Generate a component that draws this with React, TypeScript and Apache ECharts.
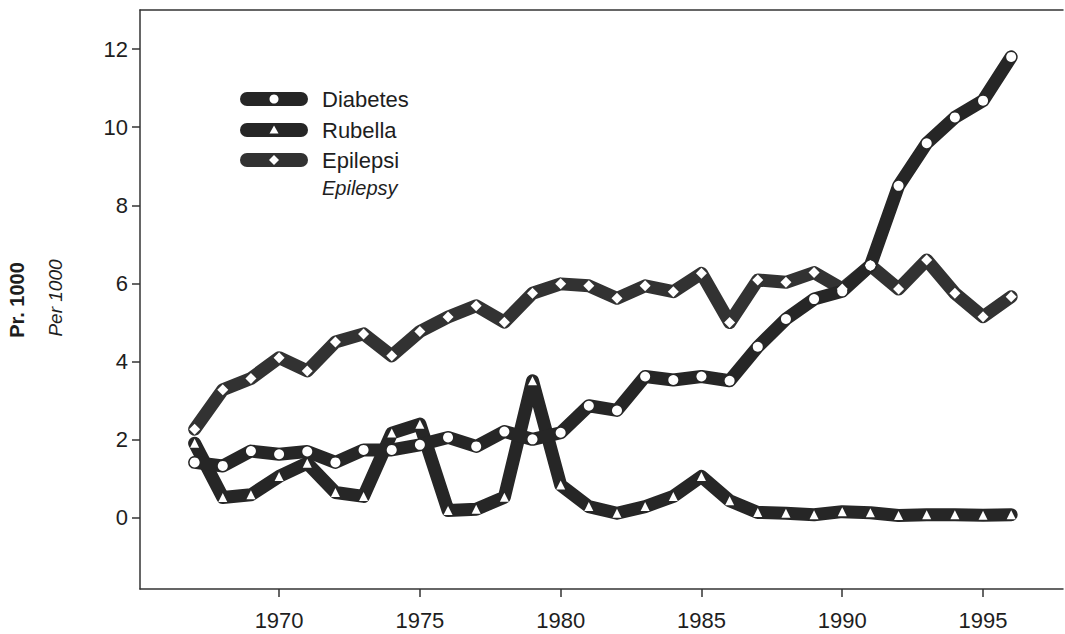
import React, { useEffect, useRef } from "react";
import * as echarts from "echarts";

const years = [1967, 1968, 1969, 1970, 1971, 1972, 1973, 1974, 1975, 1976, 1977, 1978, 1979, 1980, 1981, 1982, 1983, 1984, 1985, 1986, 1987, 1988, 1989, 1990, 1991, 1992, 1993, 1994, 1995, 1996];
const diabetes = [1.42, 1.33, 1.71, 1.63, 1.70, 1.42, 1.74, 1.74, 1.87, 2.06, 1.83, 2.21, 2.01, 2.18, 2.87, 2.75, 3.62, 3.53, 3.62, 3.51, 4.38, 5.09, 5.60, 5.80, 6.46, 8.50, 9.59, 10.25, 10.68, 11.80];
const rubella = [1.91, 0.52, 0.59, 1.06, 1.40, 0.65, 0.55, 2.17, 2.40, 0.19, 0.22, 0.53, 3.51, 0.84, 0.29, 0.12, 0.29, 0.55, 1.06, 0.44, 0.14, 0.12, 0.08, 0.16, 0.13, 0.06, 0.08, 0.08, 0.07, 0.08];
const epilepsi = [2.27, 3.28, 3.57, 4.10, 3.76, 4.50, 4.71, 4.15, 4.77, 5.14, 5.43, 5.01, 5.75, 5.99, 5.94, 5.62, 5.94, 5.79, 6.26, 5.00, 6.09, 6.03, 6.28, 5.86, 6.46, 5.86, 6.60, 5.75, 5.15, 5.66];
const xTicks = [1970, 1975, 1980, 1985, 1990, 1995];
const yTicks = [0, 2, 4, 6, 8, 10, 12];
const seriesNames = ["Diabetes", "Rubella", "Epilepsi"];
const legendSubtitle = "Epilepsy";
const yTitle = "Pr. 1000";
const ySubtitle = "Per 1000";

const FONT = "'Liberation Sans', Arial, Helvetica, sans-serif";
const DARK = "#262626";
const EPI = "#323232";
const TEXT = "#1e1e1e";
const AXIS = "#333";

export default function App() {
  const ref = useRef<HTMLDivElement>(null);
  useEffect(() => {
    document.body.style.margin = "0";
    if (!ref.current) return;
    const chart = echarts.init(ref.current, null, { renderer: "svg" });
    const mk = (vals: number[]) => years.map((y, i) => [y, vals[i]]);
    const lineSeries = (name: string, vals: number[], symbol: string, size: number, color: string) => ({
      type: "line",
      name,
      xAxisIndex: 0,
      yAxisIndex: 0,
      data: mk(vals),
      symbol,
      symbolSize: size,
      showAllSymbol: true,
      lineStyle: { color, width: 13, cap: "round", join: "round" },
      itemStyle: { color: "#ffffff", borderWidth: 0 },
      emphasis: { disabled: true },
    });
    const legendRows = [
      { name: seriesNames[0], y: 99, color: DARK },
      { name: seriesNames[1], y: 130, color: DARK },
      { name: seriesNames[2], y: 160, color: EPI },
    ];
    const graphics: any[] = [];
    legendRows.forEach((r, i) => {
      graphics.push({
        type: "rect",
        shape: { x: 240, y: r.y - 7, width: 68, height: 14, r: 7 },
        style: { fill: r.color },
      });
      if (i === 0) {
        graphics.push({ type: "circle", shape: { cx: 274, cy: r.y, r: 4.5 }, style: { fill: "#fff" } });
      } else if (i === 1) {
        graphics.push({
          type: "polygon",
          shape: { points: [[274, r.y - 4.5], [278.5, r.y + 3.5], [269.5, r.y + 3.5]] },
          style: { fill: "#fff" },
        });
      } else {
        graphics.push({
          type: "polygon",
          shape: { points: [[274, r.y - 5], [279, r.y], [274, r.y + 5], [269, r.y]] },
          style: { fill: "#fff" },
        });
      }
      graphics.push({
        type: "text",
        x: 322,
        y: r.y,
        style: { text: r.name, font: `22px ${FONT}`, fill: TEXT, textAlign: "left", textVerticalAlign: "middle" },
      });
    });
    graphics.push({
      type: "text",
      x: 322,
      y: 188,
      style: { text: legendSubtitle, font: `italic 20px ${FONT}`, fill: TEXT, textAlign: "left", textVerticalAlign: "middle" },
    });
    graphics.push({
      type: "text",
      x: 17,
      y: 300,
      rotation: Math.PI / 2,
      style: { text: yTitle, font: `bold 20px ${FONT}`, fill: TEXT, textAlign: "center", textVerticalAlign: "middle" },
    });
    graphics.push({
      type: "text",
      x: 55,
      y: 298,
      rotation: Math.PI / 2,
      style: { text: ySubtitle, font: `italic 19px ${FONT}`, fill: TEXT, textAlign: "center", textVerticalAlign: "middle" },
    });

    chart.setOption({
      animation: false,
      backgroundColor: "#ffffff",
      grid: { left: 140, top: 10, right: 2, bottom: 45, show: false },
      xAxis: [
        {
          type: "value",
          position: "bottom",
          min: 1965.06,
          max: 1997.84,
          splitLine: { show: false },
          axisLine: { show: true, onZero: false, lineStyle: { color: AXIS, width: 1.5 } },
          axisTick: { show: true, length: 8, inside: false, customValues: xTicks, lineStyle: { color: AXIS, width: 1.5 } },
          axisLabel: { customValues: xTicks, margin: 20, fontSize: 22, fontFamily: FONT, color: TEXT, formatter: (v: number) => String(v) },
        },
        {
          type: "value",
          position: "top",
          min: 1965.06,
          max: 1997.84,
          splitLine: { show: false },
          axisLine: { show: true, onZero: false, lineStyle: { color: AXIS, width: 1.5 } },
          axisTick: { show: false },
          axisLabel: { show: false },
        },
      ],
      yAxis: {
        type: "value",
        min: -1.82,
        max: 13,
        splitLine: { show: false },
        axisLine: { show: true, onZero: false, lineStyle: { color: AXIS, width: 1.5 } },
        axisTick: { show: true, length: 8, inside: false, customValues: yTicks, lineStyle: { color: AXIS, width: 1.5 } },
        axisLabel: { customValues: yTicks, margin: 12, fontSize: 22, fontFamily: FONT, color: TEXT },
      },
      series: [
        lineSeries(seriesNames[2], epilepsi, "diamond", 11, EPI),
        lineSeries(seriesNames[1], rubella, "triangle", 9, DARK),
        lineSeries(seriesNames[0], diabetes, "circle", 10, DARK),
      ],
      graphic: graphics,
    });
    return () => chart.dispose();
  }, []);
  return <div ref={ref} style={{ width: 1065, height: 634 }} />;
}
